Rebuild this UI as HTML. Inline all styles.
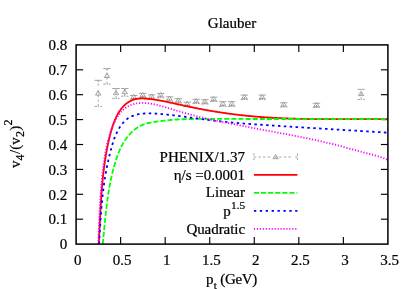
<!DOCTYPE html>
<html><head><meta charset="utf-8"><title>Glauber</title>
<style>
html,body{margin:0;padding:0;background:#fff;}
body{width:413px;height:289px;overflow:hidden;position:relative;font-family:"Liberation Serif",serif;}
</style></head><body>
<svg width="413" height="289" viewBox="0 0 413 289" style="position:absolute;left:0;top:0;will-change:transform">
<rect width="413" height="289" fill="#fff"/>
<defs><clipPath id="c"><rect x="76.1" y="44.9" width="311.79999999999995" height="199.2"/></clipPath></defs>
<g stroke="#000" stroke-width="1.15" fill="none">
<path d="M120.64,244.1 V237.1"/><path d="M120.64,44.9 V51.9"/>
<path d="M165.19,244.1 V237.1"/><path d="M165.19,44.9 V51.9"/>
<path d="M209.73,244.1 V237.1"/><path d="M209.73,44.9 V51.9"/>
<path d="M254.27,244.1 V237.1"/><path d="M254.27,44.9 V51.9"/>
<path d="M298.81,244.1 V237.1"/><path d="M298.81,44.9 V51.9"/>
<path d="M343.36,244.1 V237.1"/><path d="M343.36,44.9 V51.9"/>
<path d="M76.1,219.20 H83.1"/><path d="M387.9,219.20 H380.9"/>
<path d="M76.1,194.30 H83.1"/><path d="M387.9,194.30 H380.9"/>
<path d="M76.1,169.40 H83.1"/><path d="M387.9,169.40 H380.9"/>
<path d="M76.1,144.50 H83.1"/><path d="M387.9,144.50 H380.9"/>
<path d="M76.1,119.60 H83.1"/><path d="M387.9,119.60 H380.9"/>
<path d="M76.1,94.70 H83.1"/><path d="M387.9,94.70 H380.9"/>
<path d="M76.1,69.80 H83.1"/><path d="M387.9,69.80 H380.9"/>
</g>
<g clip-path="url(#c)">
<path d="M98.20,106.40 V80.30" stroke="#868686" stroke-width="0.75" stroke-dasharray="2.3 2.3 2.3 2.3 2.3 2.3 2.3 4.6" fill="none"/>
<path d="M94.50,80.30 H101.90" stroke="#868686" stroke-width="0.75" stroke-dasharray="3.4 0.6 3.4 9" fill="none"/>
<path d="M94.50,106.40 H101.90" stroke="#868686" stroke-width="0.75" stroke-dasharray="2.6 1.1 0.8 1.1 2.6 9" fill="none"/>
<path d="M98.20,80.30 v1.7" stroke="#868686" stroke-width="0.75" fill="none"/>
<path d="M98.20,90.89 L95.50,95.10 L100.90,95.10 Z" fill="none" stroke="#868686" stroke-width="0.75"/><circle cx="98.20" cy="93.80" r="0.45" fill="#868686"/>
<path d="M107.00,84.10 V68.60" stroke="#868686" stroke-width="0.75" stroke-dasharray="2.3 2.3 2.3 2.3 2.3 2.3 2.3 4.6" fill="none"/>
<path d="M103.30,68.60 H110.70" stroke="#868686" stroke-width="0.75" stroke-dasharray="3.4 0.6 3.4 9" fill="none"/>
<path d="M103.30,84.10 H110.70" stroke="#868686" stroke-width="0.75" stroke-dasharray="2.6 1.1 0.8 1.1 2.6 9" fill="none"/>
<path d="M107.00,68.60 v1.7" stroke="#868686" stroke-width="0.75" fill="none"/>
<path d="M107.00,73.29 L104.30,77.50 L109.70,77.50 Z" fill="none" stroke="#868686" stroke-width="0.75"/><circle cx="107.00" cy="76.20" r="0.45" fill="#868686"/>
<path d="M116.00,98.40 V88.50" stroke="#868686" stroke-width="0.75" stroke-dasharray="2.3 2.3 2.3 2.3 2.3 2.3 2.3 4.6" fill="none"/>
<path d="M112.30,88.50 H119.70" stroke="#868686" stroke-width="0.75" stroke-dasharray="3.4 0.6 3.4 9" fill="none"/>
<path d="M112.30,98.40 H119.70" stroke="#868686" stroke-width="0.75" stroke-dasharray="2.6 1.1 0.8 1.1 2.6 9" fill="none"/>
<path d="M116.00,88.50 v1.7" stroke="#868686" stroke-width="0.75" fill="none"/>
<path d="M116.00,90.49 L113.30,94.70 L118.70,94.70 Z" fill="none" stroke="#868686" stroke-width="0.75"/><circle cx="116.00" cy="93.40" r="0.45" fill="#868686"/>
<path d="M124.80,96.20 V88.50" stroke="#868686" stroke-width="0.75" stroke-dasharray="2.3 2.3 2.3 2.3 2.3 2.3 2.3 4.6" fill="none"/>
<path d="M121.10,88.50 H128.50" stroke="#868686" stroke-width="0.75" stroke-dasharray="3.4 0.6 3.4 9" fill="none"/>
<path d="M121.10,96.20 H128.50" stroke="#868686" stroke-width="0.75" stroke-dasharray="2.6 1.1 0.8 1.1 2.6 9" fill="none"/>
<path d="M124.80,88.50 v1.7" stroke="#868686" stroke-width="0.75" fill="none"/>
<path d="M124.80,89.49 L122.10,93.70 L127.50,93.70 Z" fill="none" stroke="#868686" stroke-width="0.75"/><circle cx="124.80" cy="92.40" r="0.45" fill="#868686"/>
<path d="M133.70,99.20 V95.50" stroke="#868686" stroke-width="0.75" stroke-dasharray="2.3 2.3 2.3 2.3 2.3 2.3 2.3 4.6" fill="none"/>
<path d="M130.00,95.50 H137.40" stroke="#868686" stroke-width="0.75" stroke-dasharray="3.4 0.6 3.4 9" fill="none"/>
<path d="M130.00,99.20 H137.40" stroke="#868686" stroke-width="0.75" stroke-dasharray="2.6 1.1 0.8 1.1 2.6 9" fill="none"/>
<path d="M133.70,94.29 L131.00,98.50 L136.40,98.50 Z" fill="none" stroke="#868686" stroke-width="0.75"/><circle cx="133.70" cy="97.20" r="0.45" fill="#868686"/>
<path d="M142.70,97.50 V93.40" stroke="#868686" stroke-width="0.75" stroke-dasharray="2.3 2.3 2.3 2.3 2.3 2.3 2.3 4.6" fill="none"/>
<path d="M139.00,93.40 H146.40" stroke="#868686" stroke-width="0.75" stroke-dasharray="3.4 0.6 3.4 9" fill="none"/>
<path d="M139.00,97.50 H146.40" stroke="#868686" stroke-width="0.75" stroke-dasharray="2.6 1.1 0.8 1.1 2.6 9" fill="none"/>
<path d="M142.70,92.49 L140.00,96.70 L145.40,96.70 Z" fill="none" stroke="#868686" stroke-width="0.75"/><circle cx="142.70" cy="95.40" r="0.45" fill="#868686"/>
<path d="M151.60,99.00 V94.90" stroke="#868686" stroke-width="0.75" stroke-dasharray="2.3 2.3 2.3 2.3 2.3 2.3 2.3 4.6" fill="none"/>
<path d="M147.90,94.90 H155.30" stroke="#868686" stroke-width="0.75" stroke-dasharray="3.4 0.6 3.4 9" fill="none"/>
<path d="M147.90,99.00 H155.30" stroke="#868686" stroke-width="0.75" stroke-dasharray="2.6 1.1 0.8 1.1 2.6 9" fill="none"/>
<path d="M151.60,93.99 L148.90,98.20 L154.30,98.20 Z" fill="none" stroke="#868686" stroke-width="0.75"/><circle cx="151.60" cy="96.90" r="0.45" fill="#868686"/>
<path d="M160.60,97.70 V93.40" stroke="#868686" stroke-width="0.75" stroke-dasharray="2.3 2.3 2.3 2.3 2.3 2.3 2.3 4.6" fill="none"/>
<path d="M156.90,93.40 H164.30" stroke="#868686" stroke-width="0.75" stroke-dasharray="3.4 0.6 3.4 9" fill="none"/>
<path d="M156.90,97.70 H164.30" stroke="#868686" stroke-width="0.75" stroke-dasharray="2.6 1.1 0.8 1.1 2.6 9" fill="none"/>
<path d="M160.60,92.59 L157.90,96.80 L163.30,96.80 Z" fill="none" stroke="#868686" stroke-width="0.75"/><circle cx="160.60" cy="95.50" r="0.45" fill="#868686"/>
<path d="M169.50,101.10 V96.80" stroke="#868686" stroke-width="0.75" stroke-dasharray="2.3 2.3 2.3 2.3 2.3 2.3 2.3 4.6" fill="none"/>
<path d="M165.80,96.80 H173.20" stroke="#868686" stroke-width="0.75" stroke-dasharray="3.4 0.6 3.4 9" fill="none"/>
<path d="M165.80,101.10 H173.20" stroke="#868686" stroke-width="0.75" stroke-dasharray="2.6 1.1 0.8 1.1 2.6 9" fill="none"/>
<path d="M169.50,95.99 L166.80,100.20 L172.20,100.20 Z" fill="none" stroke="#868686" stroke-width="0.75"/><circle cx="169.50" cy="98.90" r="0.45" fill="#868686"/>
<path d="M178.30,102.90 V98.70" stroke="#868686" stroke-width="0.75" stroke-dasharray="2.3 2.3 2.3 2.3 2.3 2.3 2.3 4.6" fill="none"/>
<path d="M174.60,98.70 H182.00" stroke="#868686" stroke-width="0.75" stroke-dasharray="3.4 0.6 3.4 9" fill="none"/>
<path d="M174.60,102.90 H182.00" stroke="#868686" stroke-width="0.75" stroke-dasharray="2.6 1.1 0.8 1.1 2.6 9" fill="none"/>
<path d="M178.30,97.89 L175.60,102.10 L181.00,102.10 Z" fill="none" stroke="#868686" stroke-width="0.75"/><circle cx="178.30" cy="100.80" r="0.45" fill="#868686"/>
<path d="M187.20,106.30 V102.20" stroke="#868686" stroke-width="0.75" stroke-dasharray="2.3 2.3 2.3 2.3 2.3 2.3 2.3 4.6" fill="none"/>
<path d="M183.50,102.20 H190.90" stroke="#868686" stroke-width="0.75" stroke-dasharray="3.4 0.6 3.4 9" fill="none"/>
<path d="M183.50,106.30 H190.90" stroke="#868686" stroke-width="0.75" stroke-dasharray="2.6 1.1 0.8 1.1 2.6 9" fill="none"/>
<path d="M187.20,101.29 L184.50,105.50 L189.90,105.50 Z" fill="none" stroke="#868686" stroke-width="0.75"/><circle cx="187.20" cy="104.20" r="0.45" fill="#868686"/>
<path d="M196.20,103.60 V99.30" stroke="#868686" stroke-width="0.75" stroke-dasharray="2.3 2.3 2.3 2.3 2.3 2.3 2.3 4.6" fill="none"/>
<path d="M192.50,99.30 H199.90" stroke="#868686" stroke-width="0.75" stroke-dasharray="3.4 0.6 3.4 9" fill="none"/>
<path d="M192.50,103.60 H199.90" stroke="#868686" stroke-width="0.75" stroke-dasharray="2.6 1.1 0.8 1.1 2.6 9" fill="none"/>
<path d="M196.20,98.59 L193.50,102.80 L198.90,102.80 Z" fill="none" stroke="#868686" stroke-width="0.75"/><circle cx="196.20" cy="101.50" r="0.45" fill="#868686"/>
<path d="M204.90,104.10 V99.70" stroke="#868686" stroke-width="0.75" stroke-dasharray="2.3 2.3 2.3 2.3 2.3 2.3 2.3 4.6" fill="none"/>
<path d="M201.20,99.70 H208.60" stroke="#868686" stroke-width="0.75" stroke-dasharray="3.4 0.6 3.4 9" fill="none"/>
<path d="M201.20,104.10 H208.60" stroke="#868686" stroke-width="0.75" stroke-dasharray="2.6 1.1 0.8 1.1 2.6 9" fill="none"/>
<path d="M204.90,99.09 L202.20,103.30 L207.60,103.30 Z" fill="none" stroke="#868686" stroke-width="0.75"/><circle cx="204.90" cy="102.00" r="0.45" fill="#868686"/>
<path d="M213.70,101.50 V97.20" stroke="#868686" stroke-width="0.75" stroke-dasharray="2.3 2.3 2.3 2.3 2.3 2.3 2.3 4.6" fill="none"/>
<path d="M210.00,97.20 H217.40" stroke="#868686" stroke-width="0.75" stroke-dasharray="3.4 0.6 3.4 9" fill="none"/>
<path d="M210.00,101.50 H217.40" stroke="#868686" stroke-width="0.75" stroke-dasharray="2.6 1.1 0.8 1.1 2.6 9" fill="none"/>
<path d="M213.70,96.49 L211.00,100.70 L216.40,100.70 Z" fill="none" stroke="#868686" stroke-width="0.75"/><circle cx="213.70" cy="99.40" r="0.45" fill="#868686"/>
<path d="M222.80,106.50 V101.70" stroke="#868686" stroke-width="0.75" stroke-dasharray="2.3 2.3 2.3 2.3 2.3 2.3 2.3 4.6" fill="none"/>
<path d="M219.10,101.70 H226.50" stroke="#868686" stroke-width="0.75" stroke-dasharray="3.4 0.6 3.4 9" fill="none"/>
<path d="M219.10,106.50 H226.50" stroke="#868686" stroke-width="0.75" stroke-dasharray="2.6 1.1 0.8 1.1 2.6 9" fill="none"/>
<path d="M222.80,101.19 L220.10,105.40 L225.50,105.40 Z" fill="none" stroke="#868686" stroke-width="0.75"/><circle cx="222.80" cy="104.10" r="0.45" fill="#868686"/>
<path d="M231.70,106.50 V101.70" stroke="#868686" stroke-width="0.75" stroke-dasharray="2.3 2.3 2.3 2.3 2.3 2.3 2.3 4.6" fill="none"/>
<path d="M228.00,101.70 H235.40" stroke="#868686" stroke-width="0.75" stroke-dasharray="3.4 0.6 3.4 9" fill="none"/>
<path d="M228.00,106.50 H235.40" stroke="#868686" stroke-width="0.75" stroke-dasharray="2.6 1.1 0.8 1.1 2.6 9" fill="none"/>
<path d="M231.70,101.19 L229.00,105.40 L234.40,105.40 Z" fill="none" stroke="#868686" stroke-width="0.75"/><circle cx="231.70" cy="104.10" r="0.45" fill="#868686"/>
<path d="M244.40,99.60 V95.10" stroke="#868686" stroke-width="0.75" stroke-dasharray="2.3 2.3 2.3 2.3 2.3 2.3 2.3 4.6" fill="none"/>
<path d="M240.70,95.10 H248.10" stroke="#868686" stroke-width="0.75" stroke-dasharray="3.4 0.6 3.4 9" fill="none"/>
<path d="M240.70,99.60 H248.10" stroke="#868686" stroke-width="0.75" stroke-dasharray="2.6 1.1 0.8 1.1 2.6 9" fill="none"/>
<path d="M244.40,94.49 L241.70,98.70 L247.10,98.70 Z" fill="none" stroke="#868686" stroke-width="0.75"/><circle cx="244.40" cy="97.40" r="0.45" fill="#868686"/>
<path d="M262.20,99.60 V95.10" stroke="#868686" stroke-width="0.75" stroke-dasharray="2.3 2.3 2.3 2.3 2.3 2.3 2.3 4.6" fill="none"/>
<path d="M258.50,95.10 H265.90" stroke="#868686" stroke-width="0.75" stroke-dasharray="3.4 0.6 3.4 9" fill="none"/>
<path d="M258.50,99.60 H265.90" stroke="#868686" stroke-width="0.75" stroke-dasharray="2.6 1.1 0.8 1.1 2.6 9" fill="none"/>
<path d="M262.20,94.49 L259.50,98.70 L264.90,98.70 Z" fill="none" stroke="#868686" stroke-width="0.75"/><circle cx="262.20" cy="97.40" r="0.45" fill="#868686"/>
<path d="M283.70,107.00 V102.80" stroke="#868686" stroke-width="0.75" stroke-dasharray="2.3 2.3 2.3 2.3 2.3 2.3 2.3 4.6" fill="none"/>
<path d="M280.00,102.80 H287.40" stroke="#868686" stroke-width="0.75" stroke-dasharray="3.4 0.6 3.4 9" fill="none"/>
<path d="M280.00,107.00 H287.40" stroke="#868686" stroke-width="0.75" stroke-dasharray="2.6 1.1 0.8 1.1 2.6 9" fill="none"/>
<path d="M283.70,101.99 L281.00,106.20 L286.40,106.20 Z" fill="none" stroke="#868686" stroke-width="0.75"/><circle cx="283.70" cy="104.90" r="0.45" fill="#868686"/>
<path d="M316.50,107.50 V103.30" stroke="#868686" stroke-width="0.75" stroke-dasharray="2.3 2.3 2.3 2.3 2.3 2.3 2.3 4.6" fill="none"/>
<path d="M312.80,103.30 H320.20" stroke="#868686" stroke-width="0.75" stroke-dasharray="3.4 0.6 3.4 9" fill="none"/>
<path d="M312.80,107.50 H320.20" stroke="#868686" stroke-width="0.75" stroke-dasharray="2.6 1.1 0.8 1.1 2.6 9" fill="none"/>
<path d="M316.50,102.49 L313.80,106.70 L319.20,106.70 Z" fill="none" stroke="#868686" stroke-width="0.75"/><circle cx="316.50" cy="105.40" r="0.45" fill="#868686"/>
<path d="M361.10,99.50 V89.30" stroke="#868686" stroke-width="0.75" stroke-dasharray="2.3 2.3 2.3 2.3 2.3 2.3 2.3 4.6" fill="none"/>
<path d="M357.40,89.30 H364.80" stroke="#868686" stroke-width="0.75" stroke-dasharray="3.4 0.6 3.4 9" fill="none"/>
<path d="M357.40,99.50 H364.80" stroke="#868686" stroke-width="0.75" stroke-dasharray="2.6 1.1 0.8 1.1 2.6 9" fill="none"/>
<path d="M361.10,91.39 L358.40,95.60 L363.80,95.60 Z" fill="none" stroke="#868686" stroke-width="0.75"/><circle cx="361.10" cy="94.30" r="0.45" fill="#868686"/>
<path d="M98.78,244.09 L98.83,243.10 L98.89,242.10 L98.94,241.11 L98.99,240.11 L99.04,239.12 L99.09,238.12 L99.14,237.13 L99.19,236.13 L99.24,235.14 L99.29,234.14 L99.34,233.14 L99.39,232.15 L99.44,231.15 L99.49,230.15 L99.53,229.15 L99.58,228.15 L99.63,227.16 L99.68,226.16 L99.72,225.16 L99.77,224.16 L99.82,223.16 L99.87,222.16 L99.92,221.16 L99.96,220.16 L100.01,219.16 L100.06,218.16 L100.11,217.16 L100.16,216.16 L100.21,215.16 L100.26,214.16 L100.31,213.16 L100.36,212.16 L100.41,211.16 L100.47,210.15 L100.52,209.15 L100.58,208.15 L100.63,207.15 L100.69,206.15 L100.75,205.15 L100.80,204.15 L100.86,203.15 L100.92,202.15 L100.98,201.15 L101.05,200.15 L101.11,199.15 L101.18,198.15 L101.24,197.15 L101.31,196.15 L101.38,195.15 L101.45,194.15 L101.52,193.15 L101.60,192.15 L101.67,191.15 L101.75,190.15 L101.83,189.15 L101.91,188.15 L101.99,187.15 L102.07,186.15 L102.16,185.16 L102.25,184.16 L102.34,183.16 L102.43,182.16 L102.52,181.17 L102.62,180.17 L102.72,179.17 L102.82,178.18 L102.92,177.18 L103.03,176.19 L103.13,175.19 L103.24,174.20 L103.35,173.21 L103.47,172.21 L103.59,171.22 L103.71,170.23 L103.83,169.23 L103.95,168.24 L104.08,167.25 L104.21,166.26 L104.34,165.27 L104.48,164.28 L104.62,163.29 L104.76,162.30 L104.91,161.32 L105.06,160.33 L105.21,159.34 L105.36,158.35 L105.52,157.37 L105.68,156.38 L105.84,155.40 L106.01,154.41 L106.18,153.43 L106.36,152.45 L106.53,151.47 L106.72,150.49 L106.90,149.50 L107.09,148.52 L107.28,147.55 L107.48,146.57 L107.68,145.59 L107.88,144.61 L108.09,143.64 L108.30,142.66 L108.51,141.69 L108.73,140.71 L108.96,139.74 L109.18,138.77 L109.42,137.79 L109.65,136.82 L109.89,135.86 L110.14,134.89 L110.39,133.92 L110.65,132.96 L110.91,131.99 L111.18,131.03 L111.46,130.07 L111.74,129.11 L112.03,128.16 L112.32,127.20 L112.63,126.25 L112.94,125.31 L113.27,124.36 L113.60,123.42 L113.95,122.48 L114.31,121.54 L114.68,120.61 L115.07,119.68 L115.47,118.75 L115.88,117.83 L116.32,116.91 L116.77,116.00 L117.23,115.09 L117.72,114.20 L118.22,113.31 L118.74,112.44 L119.28,111.57 L119.84,110.73 L120.42,109.90 L121.02,109.08 L121.64,108.29 L122.28,107.52 L122.95,106.77 L123.64,106.04 L124.35,105.34 L125.09,104.67 L125.84,104.02 L126.63,103.41 L127.43,102.82 L128.25,102.27 L129.09,101.75 L129.96,101.26 L130.83,100.81 L131.73,100.40 L132.64,100.02 L133.56,99.69 L134.50,99.39 L135.45,99.14 L136.40,98.92 L137.37,98.75 L138.35,98.63 L139.34,98.53 L140.33,98.48 L141.33,98.45 L142.33,98.45 L143.34,98.47 L144.35,98.52 L145.36,98.59 L146.37,98.67 L147.38,98.76 L148.39,98.86 L149.39,98.97 L150.40,99.09 L151.40,99.21 L152.40,99.34 L153.40,99.48 L154.39,99.62 L155.39,99.77 L156.38,99.93 L157.37,100.09 L158.36,100.25 L159.35,100.42 L160.34,100.60 L161.32,100.78 L162.30,100.96 L163.29,101.15 L164.27,101.34 L165.25,101.54 L166.23,101.73 L167.21,101.94 L168.19,102.14 L169.16,102.35 L170.14,102.56 L171.12,102.77 L172.09,102.98 L173.07,103.19 L174.04,103.41 L175.02,103.63 L175.99,103.84 L176.96,104.06 L177.94,104.28 L178.91,104.50 L179.89,104.72 L180.86,104.93 L181.83,105.15 L182.81,105.37 L183.78,105.58 L184.76,105.79 L185.73,106.01 L186.71,106.22 L187.69,106.43 L188.67,106.63 L189.64,106.84 L190.62,107.04 L191.60,107.24 L192.58,107.44 L193.56,107.64 L194.54,107.84 L195.52,108.04 L196.50,108.23 L197.48,108.42 L198.47,108.61 L199.45,108.80 L200.43,108.99 L201.41,109.17 L202.40,109.36 L203.38,109.54 L204.37,109.72 L205.35,109.90 L206.34,110.08 L207.32,110.25 L208.31,110.43 L209.29,110.60 L210.28,110.77 L211.27,110.94 L212.26,111.10 L213.24,111.27 L214.23,111.43 L215.22,111.59 L216.21,111.75 L217.20,111.91 L218.19,112.06 L219.18,112.22 L220.16,112.37 L221.16,112.52 L222.15,112.67 L223.14,112.82 L224.13,112.96 L225.12,113.11 L226.11,113.25 L227.10,113.39 L228.09,113.52 L229.08,113.66 L230.08,113.79 L231.07,113.93 L232.06,114.06 L233.06,114.18 L234.05,114.31 L235.04,114.44 L236.03,114.56 L237.03,114.68 L238.02,114.80 L239.02,114.92 L240.01,115.03 L241.01,115.14 L242.00,115.25 L242.99,115.36 L243.99,115.47 L244.98,115.58 L245.98,115.68 L246.97,115.78 L247.97,115.88 L248.96,115.98 L249.96,116.07 L250.96,116.17 L251.95,116.26 L252.95,116.35 L253.94,116.44 L254.94,116.53 L255.94,116.61 L256.93,116.69 L257.93,116.78 L258.93,116.86 L259.92,116.93 L260.92,117.01 L261.92,117.08 L262.91,117.16 L263.91,117.23 L264.91,117.30 L265.90,117.37 L266.90,117.43 L267.90,117.50 L268.90,117.56 L269.89,117.62 L270.89,117.68 L271.89,117.74 L272.89,117.80 L273.89,117.86 L274.88,117.91 L275.88,117.96 L276.88,118.02 L277.88,118.07 L278.88,118.12 L279.88,118.16 L280.88,118.21 L281.87,118.25 L282.87,118.30 L283.87,118.34 L284.87,118.38 L285.87,118.42 L286.87,118.46 L287.87,118.50 L288.87,118.53 L289.87,118.57 L290.87,118.60 L291.86,118.64 L292.86,118.67 L293.86,118.70 L294.86,118.73 L295.86,118.76 L296.86,118.78 L297.86,118.81 L298.86,118.83 L299.86,118.86 L300.86,118.88 L301.86,118.90 L302.86,118.93 L303.86,118.95 L304.86,118.97 L305.86,118.98 L306.86,119.00 L307.86,119.02 L308.86,119.03 L309.86,119.05 L310.86,119.06 L311.86,119.08 L312.87,119.09 L313.87,119.10 L314.87,119.11 L315.87,119.12 L316.87,119.13 L317.87,119.14 L318.87,119.15 L319.87,119.16 L320.87,119.17 L321.87,119.17 L322.87,119.18 L323.87,119.18 L324.87,119.19 L325.87,119.19 L326.87,119.19 L327.88,119.20 L328.88,119.20 L329.88,119.20 L330.88,119.20 L331.88,119.21 L332.88,119.21 L333.88,119.21 L334.88,119.21 L335.88,119.21 L336.88,119.20 L337.88,119.20 L338.88,119.20 L339.89,119.20 L340.89,119.20 L341.89,119.20 L342.89,119.19 L343.89,119.19 L344.89,119.19 L345.89,119.18 L346.89,119.18 L347.89,119.18 L348.89,119.17 L349.89,119.17 L350.89,119.16 L351.90,119.16 L352.90,119.16 L353.90,119.15 L354.90,119.15 L355.90,119.14 L356.90,119.14 L357.90,119.13 L358.90,119.13 L359.90,119.12 L360.90,119.12 L361.90,119.12 L362.90,119.11 L363.90,119.11 L364.90,119.10 L365.90,119.10 L366.90,119.10 L367.90,119.09 L368.90,119.09 L369.90,119.09 L370.90,119.08 L371.90,119.08 L372.90,119.08 L373.90,119.08 L374.90,119.07 L375.90,119.07 L376.90,119.07 L377.90,119.07 L378.90,119.07 L379.90,119.07 L380.90,119.07 L381.90,119.07 L382.90,119.07 L383.90,119.07 L384.90,119.08 L385.90,119.08 L386.90,119.08 L387.90,119.08" stroke="#ff0000" stroke-width="1.8" fill="none" stroke-linejoin="round"/>
<path d="M102.70,244.10 L102.80,243.12 L102.90,242.13 L103.00,241.15 L103.10,240.16 L103.20,239.17 L103.30,238.18 L103.40,237.19 L103.50,236.20 L103.59,235.21 L103.69,234.22 L103.79,233.23 L103.88,232.23 L103.98,231.24 L104.08,230.25 L104.17,229.25 L104.27,228.25 L104.37,227.26 L104.46,226.26 L104.56,225.26 L104.66,224.26 L104.76,223.26 L104.86,222.26 L104.96,221.26 L105.06,220.26 L105.16,219.26 L105.26,218.26 L105.37,217.26 L105.47,216.26 L105.58,215.26 L105.69,214.26 L105.79,213.26 L105.90,212.26 L106.02,211.26 L106.13,210.26 L106.24,209.25 L106.36,208.25 L106.48,207.25 L106.60,206.25 L106.72,205.25 L106.85,204.25 L106.98,203.25 L107.10,202.25 L107.24,201.25 L107.37,200.25 L107.51,199.26 L107.65,198.26 L107.79,197.26 L107.93,196.26 L108.08,195.27 L108.23,194.27 L108.39,193.28 L108.54,192.28 L108.70,191.29 L108.86,190.30 L109.03,189.31 L109.20,188.32 L109.37,187.33 L109.55,186.34 L109.73,185.35 L109.92,184.36 L110.10,183.38 L110.30,182.39 L110.49,181.41 L110.69,180.43 L110.90,179.45 L111.11,178.47 L111.32,177.49 L111.54,176.51 L111.76,175.53 L111.98,174.56 L112.22,173.59 L112.45,172.62 L112.69,171.64 L112.94,170.68 L113.19,169.71 L113.44,168.74 L113.70,167.78 L113.97,166.82 L114.24,165.86 L114.52,164.90 L114.80,163.94 L115.09,162.99 L115.38,162.03 L115.68,161.08 L115.98,160.13 L116.29,159.19 L116.61,158.24 L116.93,157.30 L117.26,156.36 L117.60,155.42 L117.94,154.48 L118.29,153.55 L118.65,152.62 L119.03,151.69 L119.41,150.77 L119.80,149.86 L120.21,148.94 L120.63,148.04 L121.06,147.14 L121.51,146.24 L121.98,145.35 L122.46,144.47 L122.95,143.60 L123.46,142.73 L123.98,141.87 L124.52,141.02 L125.08,140.17 L125.65,139.34 L126.23,138.51 L126.83,137.70 L127.45,136.89 L128.09,136.10 L128.73,135.32 L129.40,134.56 L130.08,133.80 L130.77,133.07 L131.48,132.35 L132.21,131.65 L132.95,130.97 L133.70,130.31 L134.47,129.67 L135.26,129.05 L136.06,128.46 L136.88,127.89 L137.71,127.35 L138.55,126.83 L139.41,126.34 L140.28,125.88 L141.17,125.45 L142.08,125.05 L142.99,124.68 L143.92,124.34 L144.87,124.02 L145.82,123.74 L146.78,123.47 L147.75,123.23 L148.73,123.00 L149.72,122.79 L150.70,122.60 L151.70,122.41 L152.69,122.24 L153.69,122.07 L154.68,121.91 L155.68,121.76 L156.68,121.61 L157.67,121.46 L158.67,121.32 L159.67,121.19 L160.66,121.06 L161.66,120.93 L162.66,120.81 L163.65,120.70 L164.65,120.59 L165.65,120.48 L166.65,120.38 L167.64,120.28 L168.64,120.19 L169.64,120.10 L170.64,120.01 L171.63,119.93 L172.63,119.86 L173.63,119.78 L174.63,119.71 L175.63,119.65 L176.63,119.58 L177.62,119.52 L178.62,119.47 L179.62,119.41 L180.62,119.36 L181.62,119.32 L182.62,119.27 L183.61,119.23 L184.61,119.20 L185.61,119.16 L186.61,119.13 L187.61,119.10 L188.61,119.07 L189.61,119.04 L190.61,119.02 L191.61,119.00 L192.61,118.98 L193.61,118.96 L194.61,118.95 L195.60,118.93 L196.60,118.92 L197.60,118.91 L198.60,118.90 L199.60,118.90 L200.60,118.89 L201.60,118.89 L202.60,118.88 L203.60,118.88 L204.60,118.88 L205.60,118.88 L206.60,118.88 L207.60,118.88 L208.60,118.88 L209.60,118.88 L210.61,118.88 L211.61,118.89 L212.61,118.89 L213.61,118.89 L214.61,118.90 L215.61,118.90 L216.61,118.90 L217.61,118.91 L218.61,118.91 L219.61,118.91 L220.61,118.92 L221.61,118.92 L222.61,118.92 L223.62,118.92 L224.62,118.93 L225.62,118.93 L226.62,118.93 L227.62,118.93 L228.62,118.94 L229.62,118.94 L230.62,118.94 L231.63,118.94 L232.63,118.95 L233.63,118.95 L234.63,118.95 L235.63,118.95 L236.63,118.96 L237.63,118.96 L238.64,118.96 L239.64,118.96 L240.64,118.96 L241.64,118.97 L242.64,118.97 L243.65,118.97 L244.65,118.97 L245.65,118.97 L246.65,118.97 L247.65,118.98 L248.66,118.98 L249.66,118.98 L250.66,118.98 L251.66,118.98 L252.66,118.98 L253.67,118.99 L254.67,118.99 L255.67,118.99 L256.67,118.99 L257.67,118.99 L258.68,118.99 L259.68,118.99 L260.68,118.99 L261.68,119.00 L262.69,119.00 L263.69,119.00 L264.69,119.00 L265.69,119.00 L266.70,119.00 L267.70,119.00 L268.70,119.00 L269.70,119.00 L270.70,119.00 L271.71,119.01 L272.71,119.01 L273.71,119.01 L274.71,119.01 L275.72,119.01 L276.72,119.01 L277.72,119.01 L278.72,119.01 L279.73,119.01 L280.73,119.01 L281.73,119.01 L282.73,119.01 L283.74,119.02 L284.74,119.02 L285.74,119.02 L286.75,119.02 L287.75,119.02 L288.75,119.02 L289.75,119.02 L290.76,119.02 L291.76,119.02 L292.76,119.02 L293.76,119.02 L294.77,119.02 L295.77,119.02 L296.77,119.02 L297.77,119.02 L298.78,119.02 L299.78,119.02 L300.78,119.02 L301.78,119.02 L302.79,119.03 L303.79,119.03 L304.79,119.03 L305.79,119.03 L306.80,119.03 L307.80,119.03 L308.80,119.03 L309.80,119.03 L310.81,119.03 L311.81,119.03 L312.81,119.03 L313.81,119.03 L314.81,119.03 L315.82,119.03 L316.82,119.03 L317.82,119.03 L318.82,119.03 L319.83,119.03 L320.83,119.03 L321.83,119.03 L322.83,119.03 L323.83,119.03 L324.84,119.04 L325.84,119.04 L326.84,119.04 L327.84,119.04 L328.85,119.04 L329.85,119.04 L330.85,119.04 L331.85,119.04 L332.85,119.04 L333.86,119.04 L334.86,119.04 L335.86,119.04 L336.86,119.04 L337.86,119.04 L338.86,119.04 L339.87,119.04 L340.87,119.04 L341.87,119.05 L342.87,119.05 L343.87,119.05 L344.87,119.05 L345.88,119.05 L346.88,119.05 L347.88,119.05 L348.88,119.05 L349.88,119.05 L350.88,119.05 L351.88,119.05 L352.88,119.05 L353.89,119.06 L354.89,119.06 L355.89,119.06 L356.89,119.06 L357.89,119.06 L358.89,119.06 L359.89,119.06 L360.89,119.06 L361.89,119.06 L362.89,119.07 L363.89,119.07 L364.89,119.07 L365.90,119.07 L366.90,119.07 L367.90,119.07 L368.90,119.07 L369.90,119.07 L370.90,119.08 L371.90,119.08 L372.90,119.08 L373.90,119.08 L374.90,119.08 L375.90,119.08 L376.90,119.09 L377.90,119.09 L378.90,119.09 L379.90,119.09 L380.90,119.09 L381.90,119.09 L382.90,119.10 L383.90,119.10 L384.89,119.10 L385.89,119.10 L386.89,119.10 L387.89,119.11" stroke="#00ff00" stroke-width="1.8" fill="none" stroke-dasharray="5.1 2.0"/>
<path d="M99.10,244.10 L99.15,243.10 L99.21,242.11 L99.26,241.11 L99.31,240.11 L99.37,239.11 L99.42,238.11 L99.48,237.11 L99.53,236.11 L99.59,235.12 L99.64,234.12 L99.70,233.12 L99.76,232.12 L99.81,231.12 L99.87,230.12 L99.93,229.12 L99.99,228.12 L100.05,227.12 L100.11,226.12 L100.17,225.12 L100.24,224.12 L100.30,223.12 L100.37,222.12 L100.43,221.12 L100.50,220.12 L100.57,219.12 L100.64,218.12 L100.71,217.12 L100.78,216.12 L100.85,215.12 L100.93,214.12 L101.00,213.12 L101.08,212.12 L101.16,211.12 L101.24,210.12 L101.32,209.12 L101.40,208.13 L101.49,207.13 L101.58,206.13 L101.67,205.13 L101.76,204.13 L101.85,203.14 L101.94,202.14 L102.04,201.14 L102.14,200.14 L102.24,199.15 L102.34,198.15 L102.45,197.15 L102.55,196.16 L102.66,195.16 L102.77,194.17 L102.89,193.17 L103.00,192.18 L103.12,191.18 L103.24,190.19 L103.36,189.20 L103.49,188.20 L103.62,187.21 L103.75,186.22 L103.88,185.23 L104.02,184.24 L104.16,183.24 L104.30,182.25 L104.44,181.26 L104.59,180.27 L104.74,179.29 L104.90,178.30 L105.05,177.31 L105.21,176.32 L105.37,175.33 L105.54,174.35 L105.71,173.36 L105.88,172.38 L106.06,171.39 L106.24,170.41 L106.42,169.43 L106.60,168.44 L106.79,167.46 L106.98,166.48 L107.18,165.50 L107.38,164.52 L107.58,163.54 L107.79,162.56 L108.00,161.58 L108.22,160.60 L108.44,159.63 L108.66,158.65 L108.88,157.68 L109.11,156.70 L109.35,155.73 L109.59,154.76 L109.83,153.78 L110.08,152.81 L110.33,151.84 L110.58,150.87 L110.84,149.90 L111.10,148.94 L111.37,147.97 L111.64,147.00 L111.92,146.04 L112.20,145.07 L112.49,144.11 L112.79,143.15 L113.09,142.20 L113.40,141.24 L113.72,140.29 L114.05,139.34 L114.38,138.40 L114.74,137.46 L115.10,136.53 L115.47,135.60 L115.86,134.68 L116.27,133.77 L116.69,132.86 L117.12,131.97 L117.58,131.08 L118.05,130.19 L118.54,129.32 L119.04,128.46 L119.57,127.60 L120.12,126.76 L120.69,125.93 L121.28,125.11 L121.90,124.30 L122.54,123.50 L123.20,122.73 L123.88,121.98 L124.59,121.25 L125.32,120.55 L126.07,119.88 L126.84,119.24 L127.64,118.63 L128.46,118.06 L129.30,117.54 L130.17,117.05 L131.05,116.60 L131.95,116.19 L132.87,115.82 L133.80,115.48 L134.74,115.18 L135.70,114.90 L136.66,114.65 L137.63,114.43 L138.61,114.24 L139.59,114.06 L140.57,113.91 L141.55,113.78 L142.53,113.66 L143.52,113.57 L144.50,113.49 L145.49,113.43 L146.48,113.38 L147.47,113.35 L148.46,113.34 L149.45,113.34 L150.44,113.35 L151.44,113.37 L152.43,113.40 L153.42,113.44 L154.42,113.49 L155.42,113.55 L156.41,113.62 L157.41,113.70 L158.41,113.77 L159.40,113.86 L160.40,113.95 L161.40,114.04 L162.40,114.13 L163.39,114.23 L164.39,114.33 L165.39,114.43 L166.38,114.53 L167.38,114.64 L168.38,114.75 L169.38,114.86 L170.37,114.97 L171.37,115.09 L172.37,115.20 L173.36,115.32 L174.36,115.44 L175.36,115.56 L176.36,115.69 L177.35,115.81 L178.35,115.94 L179.35,116.07 L180.34,116.19 L181.34,116.32 L182.34,116.45 L183.33,116.59 L184.33,116.72 L185.33,116.85 L186.32,116.99 L187.32,117.12 L188.32,117.26 L189.31,117.39 L190.31,117.53 L191.31,117.66 L192.30,117.80 L193.30,117.93 L194.30,118.07 L195.29,118.21 L196.29,118.34 L197.29,118.48 L198.28,118.61 L199.28,118.75 L200.28,118.88 L201.27,119.02 L202.27,119.15 L203.27,119.28 L204.26,119.41 L205.26,119.54 L206.26,119.67 L207.25,119.80 L208.25,119.93 L209.25,120.06 L210.24,120.18 L211.24,120.30 L212.24,120.43 L213.23,120.55 L214.23,120.66 L215.23,120.78 L216.22,120.90 L217.22,121.01 L218.21,121.12 L219.21,121.23 L220.21,121.34 L221.20,121.45 L222.20,121.55 L223.20,121.65 L224.19,121.76 L225.19,121.86 L226.19,121.96 L227.18,122.06 L228.18,122.15 L229.18,122.25 L230.17,122.34 L231.17,122.43 L232.16,122.53 L233.16,122.62 L234.16,122.71 L235.15,122.79 L236.15,122.88 L237.15,122.97 L238.14,123.05 L239.14,123.14 L240.14,123.22 L241.13,123.30 L242.13,123.38 L243.13,123.46 L244.12,123.54 L245.12,123.62 L246.12,123.70 L247.11,123.77 L248.11,123.85 L249.11,123.92 L250.10,124.00 L251.10,124.07 L252.10,124.14 L253.09,124.22 L254.09,124.29 L255.09,124.36 L256.08,124.43 L257.08,124.50 L258.08,124.57 L259.07,124.64 L260.07,124.71 L261.07,124.77 L262.06,124.84 L263.06,124.91 L264.06,124.98 L265.05,125.04 L266.05,125.11 L267.05,125.18 L268.04,125.24 L269.04,125.31 L270.04,125.37 L271.03,125.44 L272.03,125.50 L273.03,125.57 L274.02,125.64 L275.02,125.70 L276.02,125.77 L277.02,125.83 L278.01,125.89 L279.01,125.96 L280.01,126.02 L281.00,126.09 L282.00,126.15 L283.00,126.22 L283.99,126.28 L284.99,126.34 L285.99,126.41 L286.99,126.47 L287.98,126.53 L288.98,126.60 L289.98,126.66 L290.98,126.72 L291.97,126.79 L292.97,126.85 L293.97,126.91 L294.97,126.98 L295.96,127.04 L296.96,127.10 L297.96,127.16 L298.96,127.23 L299.95,127.29 L300.95,127.35 L301.95,127.41 L302.95,127.47 L303.94,127.54 L304.94,127.60 L305.94,127.66 L306.94,127.72 L307.94,127.78 L308.93,127.84 L309.93,127.91 L310.93,127.97 L311.93,128.03 L312.93,128.09 L313.92,128.15 L314.92,128.21 L315.92,128.27 L316.92,128.33 L317.92,128.40 L318.92,128.46 L319.91,128.52 L320.91,128.58 L321.91,128.64 L322.91,128.70 L323.91,128.76 L324.91,128.82 L325.91,128.88 L326.90,128.94 L327.90,129.01 L328.90,129.07 L329.90,129.13 L330.90,129.19 L331.90,129.25 L332.90,129.31 L333.90,129.37 L334.90,129.43 L335.89,129.49 L336.89,129.55 L337.89,129.61 L338.89,129.67 L339.89,129.73 L340.89,129.80 L341.89,129.86 L342.89,129.92 L343.89,129.98 L344.89,130.04 L345.89,130.10 L346.89,130.16 L347.89,130.22 L348.89,130.28 L349.89,130.34 L350.89,130.40 L351.89,130.47 L352.89,130.53 L353.89,130.59 L354.89,130.65 L355.89,130.71 L356.89,130.77 L357.89,130.83 L358.89,130.89 L359.89,130.96 L360.89,131.02 L361.89,131.08 L362.89,131.14 L363.89,131.20 L364.89,131.26 L365.89,131.33 L366.89,131.39 L367.89,131.45 L368.89,131.51 L369.90,131.57 L370.90,131.64 L371.90,131.70 L372.90,131.76 L373.90,131.82 L374.90,131.89 L375.90,131.95 L376.90,132.01 L377.91,132.07 L378.91,132.14 L379.91,132.20 L380.91,132.26 L381.91,132.33 L382.91,132.39 L383.92,132.45 L384.92,132.52 L385.92,132.58 L386.92,132.64 L387.92,132.71" stroke="#0000ff" stroke-width="1.8" fill="none" stroke-dasharray="2.5 3.4"/>
<path d="M98.30,244.09 L98.32,243.10 L98.35,242.10 L98.37,241.11 L98.40,240.12 L98.42,239.12 L98.45,238.13 L98.48,237.13 L98.50,236.13 L98.53,235.14 L98.56,234.14 L98.60,233.14 L98.63,232.15 L98.66,231.15 L98.70,230.15 L98.73,229.15 L98.77,228.15 L98.81,227.16 L98.85,226.16 L98.88,225.16 L98.93,224.16 L98.97,223.16 L99.01,222.16 L99.05,221.16 L99.10,220.16 L99.15,219.16 L99.19,218.16 L99.24,217.16 L99.29,216.16 L99.34,215.16 L99.39,214.15 L99.44,213.15 L99.50,212.15 L99.55,211.15 L99.61,210.15 L99.67,209.15 L99.72,208.15 L99.78,207.15 L99.84,206.15 L99.91,205.14 L99.97,204.14 L100.03,203.14 L100.10,202.14 L100.16,201.14 L100.23,200.14 L100.30,199.14 L100.37,198.14 L100.44,197.14 L100.51,196.14 L100.59,195.14 L100.66,194.14 L100.74,193.14 L100.81,192.14 L100.89,191.14 L100.97,190.14 L101.05,189.14 L101.14,188.14 L101.22,187.14 L101.30,186.15 L101.39,185.15 L101.48,184.15 L101.56,183.15 L101.65,182.16 L101.74,181.16 L101.84,180.16 L101.93,179.17 L102.02,178.17 L102.12,177.18 L102.22,176.18 L102.32,175.19 L102.42,174.20 L102.52,173.20 L102.63,172.21 L102.74,171.22 L102.85,170.23 L102.96,169.24 L103.08,168.24 L103.20,167.25 L103.32,166.27 L103.44,165.28 L103.57,164.29 L103.70,163.30 L103.84,162.31 L103.97,161.33 L104.12,160.34 L104.26,159.36 L104.41,158.37 L104.56,157.39 L104.72,156.40 L104.89,155.42 L105.05,154.44 L105.22,153.46 L105.40,152.48 L105.58,151.50 L105.77,150.52 L105.96,149.54 L106.15,148.56 L106.36,147.59 L106.56,146.61 L106.78,145.64 L107.00,144.66 L107.22,143.69 L107.45,142.72 L107.69,141.75 L107.93,140.78 L108.18,139.81 L108.44,138.84 L108.70,137.87 L108.97,136.90 L109.25,135.94 L109.54,134.98 L109.83,134.02 L110.13,133.06 L110.45,132.10 L110.77,131.15 L111.10,130.20 L111.45,129.26 L111.81,128.31 L112.17,127.38 L112.55,126.44 L112.95,125.52 L113.35,124.59 L113.77,123.68 L114.21,122.77 L114.66,121.86 L115.12,120.96 L115.60,120.07 L116.10,119.18 L116.61,118.31 L117.14,117.44 L117.69,116.58 L118.25,115.74 L118.83,114.91 L119.44,114.10 L120.06,113.31 L120.70,112.53 L121.36,111.78 L122.04,111.06 L122.75,110.36 L123.47,109.68 L124.22,109.04 L124.99,108.42 L125.78,107.84 L126.59,107.29 L127.42,106.77 L128.28,106.29 L129.15,105.83 L130.03,105.41 L130.93,105.02 L131.85,104.67 L132.78,104.35 L133.72,104.06 L134.68,103.80 L135.64,103.58 L136.61,103.38 L137.59,103.23 L138.58,103.10 L139.58,103.01 L140.57,102.96 L141.57,102.93 L142.58,102.93 L143.58,102.96 L144.59,103.01 L145.59,103.08 L146.60,103.17 L147.60,103.27 L148.59,103.39 L149.59,103.53 L150.58,103.69 L151.57,103.85 L152.56,104.03 L153.54,104.22 L154.53,104.43 L155.51,104.64 L156.49,104.87 L157.47,105.10 L158.44,105.35 L159.42,105.60 L160.39,105.85 L161.36,106.12 L162.33,106.39 L163.30,106.66 L164.27,106.94 L165.24,107.22 L166.20,107.51 L167.16,107.79 L168.13,108.08 L169.09,108.37 L170.05,108.66 L171.01,108.95 L171.97,109.24 L172.94,109.52 L173.89,109.81 L174.85,110.10 L175.81,110.38 L176.77,110.67 L177.73,110.95 L178.69,111.23 L179.65,111.51 L180.61,111.79 L181.57,112.07 L182.53,112.35 L183.49,112.62 L184.45,112.90 L185.41,113.17 L186.37,113.44 L187.34,113.71 L188.30,113.97 L189.26,114.24 L190.23,114.50 L191.19,114.76 L192.16,115.02 L193.13,115.28 L194.09,115.54 L195.06,115.79 L196.03,116.04 L196.99,116.29 L197.96,116.54 L198.93,116.78 L199.90,117.03 L200.87,117.27 L201.84,117.50 L202.81,117.74 L203.79,117.97 L204.76,118.20 L205.73,118.43 L206.70,118.66 L207.68,118.88 L208.65,119.10 L209.62,119.32 L210.60,119.53 L211.57,119.75 L212.55,119.96 L213.52,120.16 L214.50,120.37 L215.48,120.57 L216.45,120.77 L217.43,120.96 L218.41,121.16 L219.38,121.35 L220.36,121.54 L221.34,121.73 L222.32,121.92 L223.30,122.11 L224.28,122.30 L225.26,122.49 L226.24,122.68 L227.22,122.86 L228.20,123.05 L229.18,123.24 L230.16,123.43 L231.14,123.63 L232.12,123.82 L233.10,124.01 L234.08,124.21 L235.06,124.41 L236.04,124.60 L237.02,124.80 L238.01,125.00 L238.99,125.20 L239.97,125.39 L240.95,125.59 L241.94,125.79 L242.92,125.99 L243.90,126.19 L244.88,126.39 L245.87,126.58 L246.85,126.78 L247.83,126.98 L248.81,127.17 L249.80,127.37 L250.78,127.56 L251.76,127.75 L252.75,127.94 L253.73,128.13 L254.71,128.32 L255.70,128.51 L256.68,128.70 L257.66,128.89 L258.65,129.08 L259.63,129.27 L260.61,129.45 L261.60,129.64 L262.58,129.82 L263.56,130.01 L264.55,130.19 L265.53,130.38 L266.51,130.56 L267.50,130.74 L268.48,130.92 L269.46,131.11 L270.45,131.29 L271.43,131.47 L272.41,131.65 L273.39,131.84 L274.38,132.02 L275.36,132.20 L276.34,132.38 L277.33,132.57 L278.31,132.75 L279.29,132.93 L280.27,133.11 L281.26,133.30 L282.24,133.48 L283.22,133.66 L284.20,133.84 L285.18,134.03 L286.17,134.21 L287.15,134.40 L288.13,134.58 L289.11,134.77 L290.09,134.95 L291.07,135.14 L292.06,135.33 L293.04,135.52 L294.02,135.71 L295.00,135.89 L295.98,136.08 L296.96,136.28 L297.94,136.47 L298.92,136.66 L299.90,136.85 L300.88,137.05 L301.86,137.24 L302.84,137.44 L303.82,137.64 L304.80,137.84 L305.78,138.03 L306.76,138.24 L307.74,138.44 L308.71,138.64 L309.69,138.84 L310.67,139.05 L311.65,139.26 L312.63,139.47 L313.60,139.68 L314.58,139.89 L315.56,140.10 L316.53,140.31 L317.51,140.53 L318.49,140.75 L319.46,140.97 L320.44,141.19 L321.41,141.41 L322.39,141.63 L323.37,141.86 L324.34,142.09 L325.31,142.32 L326.29,142.55 L327.26,142.78 L328.24,143.02 L329.21,143.25 L330.18,143.49 L331.16,143.73 L332.13,143.98 L333.10,144.22 L334.07,144.47 L335.04,144.72 L336.02,144.97 L336.99,145.22 L337.96,145.47 L338.93,145.73 L339.90,145.98 L340.87,146.24 L341.84,146.50 L342.81,146.75 L343.77,147.01 L344.74,147.27 L345.71,147.53 L346.68,147.80 L347.65,148.06 L348.61,148.32 L349.58,148.58 L350.55,148.85 L351.51,149.11 L352.48,149.38 L353.44,149.64 L354.41,149.90 L355.37,150.17 L356.34,150.43 L357.30,150.70 L358.26,150.96 L359.23,151.22 L360.19,151.49 L361.15,151.75 L362.11,152.01 L363.07,152.27 L364.03,152.53 L364.99,152.79 L365.95,153.05 L366.91,153.30 L367.87,153.56 L368.83,153.81 L369.79,154.07 L370.75,154.32 L371.70,154.58 L372.66,154.84 L373.62,155.10 L374.57,155.36 L375.53,155.63 L376.48,155.90 L377.43,156.18 L378.39,156.47 L379.34,156.76 L380.29,157.07 L381.25,157.38 L382.20,157.70 L383.15,158.03 L384.10,158.38 L385.05,158.74 L386.00,159.11 L386.95,159.50 L387.90,159.90" stroke="#ff00ff" stroke-width="1.8" fill="none" stroke-dasharray="1.2 1.75"/>
</g>
<path d="M253.9,157.0 H297.4" stroke="#868686" stroke-width="0.75" stroke-dasharray="2.3 2.3 2.3 2.3 2.3 2.3 2.3 4.6" fill="none"/>
<path d="M253.9,153.3 V160.7 M297.4,153.3 V160.7" stroke="#868686" stroke-width="0.75" stroke-dasharray="2.3 2.3 2.3 2.3 2.3 2.3 2.3 4.6" fill="none"/>
<path d="M275.65,154.49 L272.95,158.70 L278.35,158.70 Z" fill="none" stroke="#868686" stroke-width="0.75"/><circle cx="275.65" cy="157.40" r="0.45" fill="#868686"/>
<path d="M253.9,174.9 H297.4" stroke="#ff0000" stroke-width="1.8" fill="none"/>
<path d="M253.9,192.8 H297.4" stroke="#00ff00" stroke-width="1.8" fill="none" stroke-dasharray="5.1 2.0"/>
<path d="M253.9,210.8 H297.4" stroke="#0000ff" stroke-width="1.8" fill="none" stroke-dasharray="2.35 3.55"/>
<path d="M253.9,228.8 H297.4" stroke="#ff00ff" stroke-width="1.8" fill="none" stroke-dasharray="1.2 1.75"/>
<rect x="76.1" y="44.9" width="311.79999999999995" height="199.2" fill="none" stroke="#000" stroke-width="1.5"/>
<g font-family="'Liberation Serif', serif" font-size="15" fill="#000" stroke="#000" stroke-width="0.22" stroke-linejoin="round">
<text x="67.3" y="249.30" text-anchor="end">0</text>
<text x="67.3" y="224.40" text-anchor="end">0.1</text>
<text x="67.3" y="199.50" text-anchor="end">0.2</text>
<text x="67.3" y="174.60" text-anchor="end">0.3</text>
<text x="67.3" y="149.70" text-anchor="end">0.4</text>
<text x="67.3" y="124.80" text-anchor="end">0.5</text>
<text x="67.3" y="99.90" text-anchor="end">0.6</text>
<text x="67.3" y="75.00" text-anchor="end">0.7</text>
<text x="67.3" y="50.10" text-anchor="end">0.8</text>
<text x="77.70" y="264.6" text-anchor="middle">0</text>
<text x="122.24" y="264.6" text-anchor="middle">0.5</text>
<text x="166.79" y="264.6" text-anchor="middle">1</text>
<text x="211.33" y="264.6" text-anchor="middle">1.5</text>
<text x="255.87" y="264.6" text-anchor="middle">2</text>
<text x="300.41" y="264.6" text-anchor="middle">2.5</text>
<text x="344.96" y="264.6" text-anchor="middle">3</text>
<text x="389.50" y="264.6" text-anchor="middle">3.5</text>
<text x="232" y="28.2" text-anchor="middle">Glauber</text>
<text x="206" y="284.4">p<tspan font-size="11" dy="4.2" dx="0.2">t</tspan></text>
<text x="220.3" y="284.4" letter-spacing="-0.33">(GeV)</text>
<text transform="translate(19.9,168.1) rotate(-90)">v<tspan font-size="12" dy="4.5" dx="0.2">4</tspan><tspan dy="-4.5" dx="0.3">/</tspan><tspan dx="0.2">(v</tspan><tspan font-size="12" dy="4.5" dx="0.2">2</tspan><tspan dy="-4.5" dx="0.3">)</tspan><tspan font-size="12" dy="-7.5" dx="0.2">2</tspan></text>
<text x="245.0" y="161.6" text-anchor="end">PHENIX/1.37</text>
<text x="245.0" y="179.5" text-anchor="end">η/s =0.0001</text>
<text x="245.0" y="197.3" text-anchor="end">Linear</text>
<text x="245.2" y="215.5" text-anchor="end">p<tspan font-size="11.3" dy="-6.2" dx="0.4">1.5</tspan></text>
<text x="245.0" y="233.5" text-anchor="end" letter-spacing="-0.06">Quadratic</text>
</g>
</svg>
</body></html>
